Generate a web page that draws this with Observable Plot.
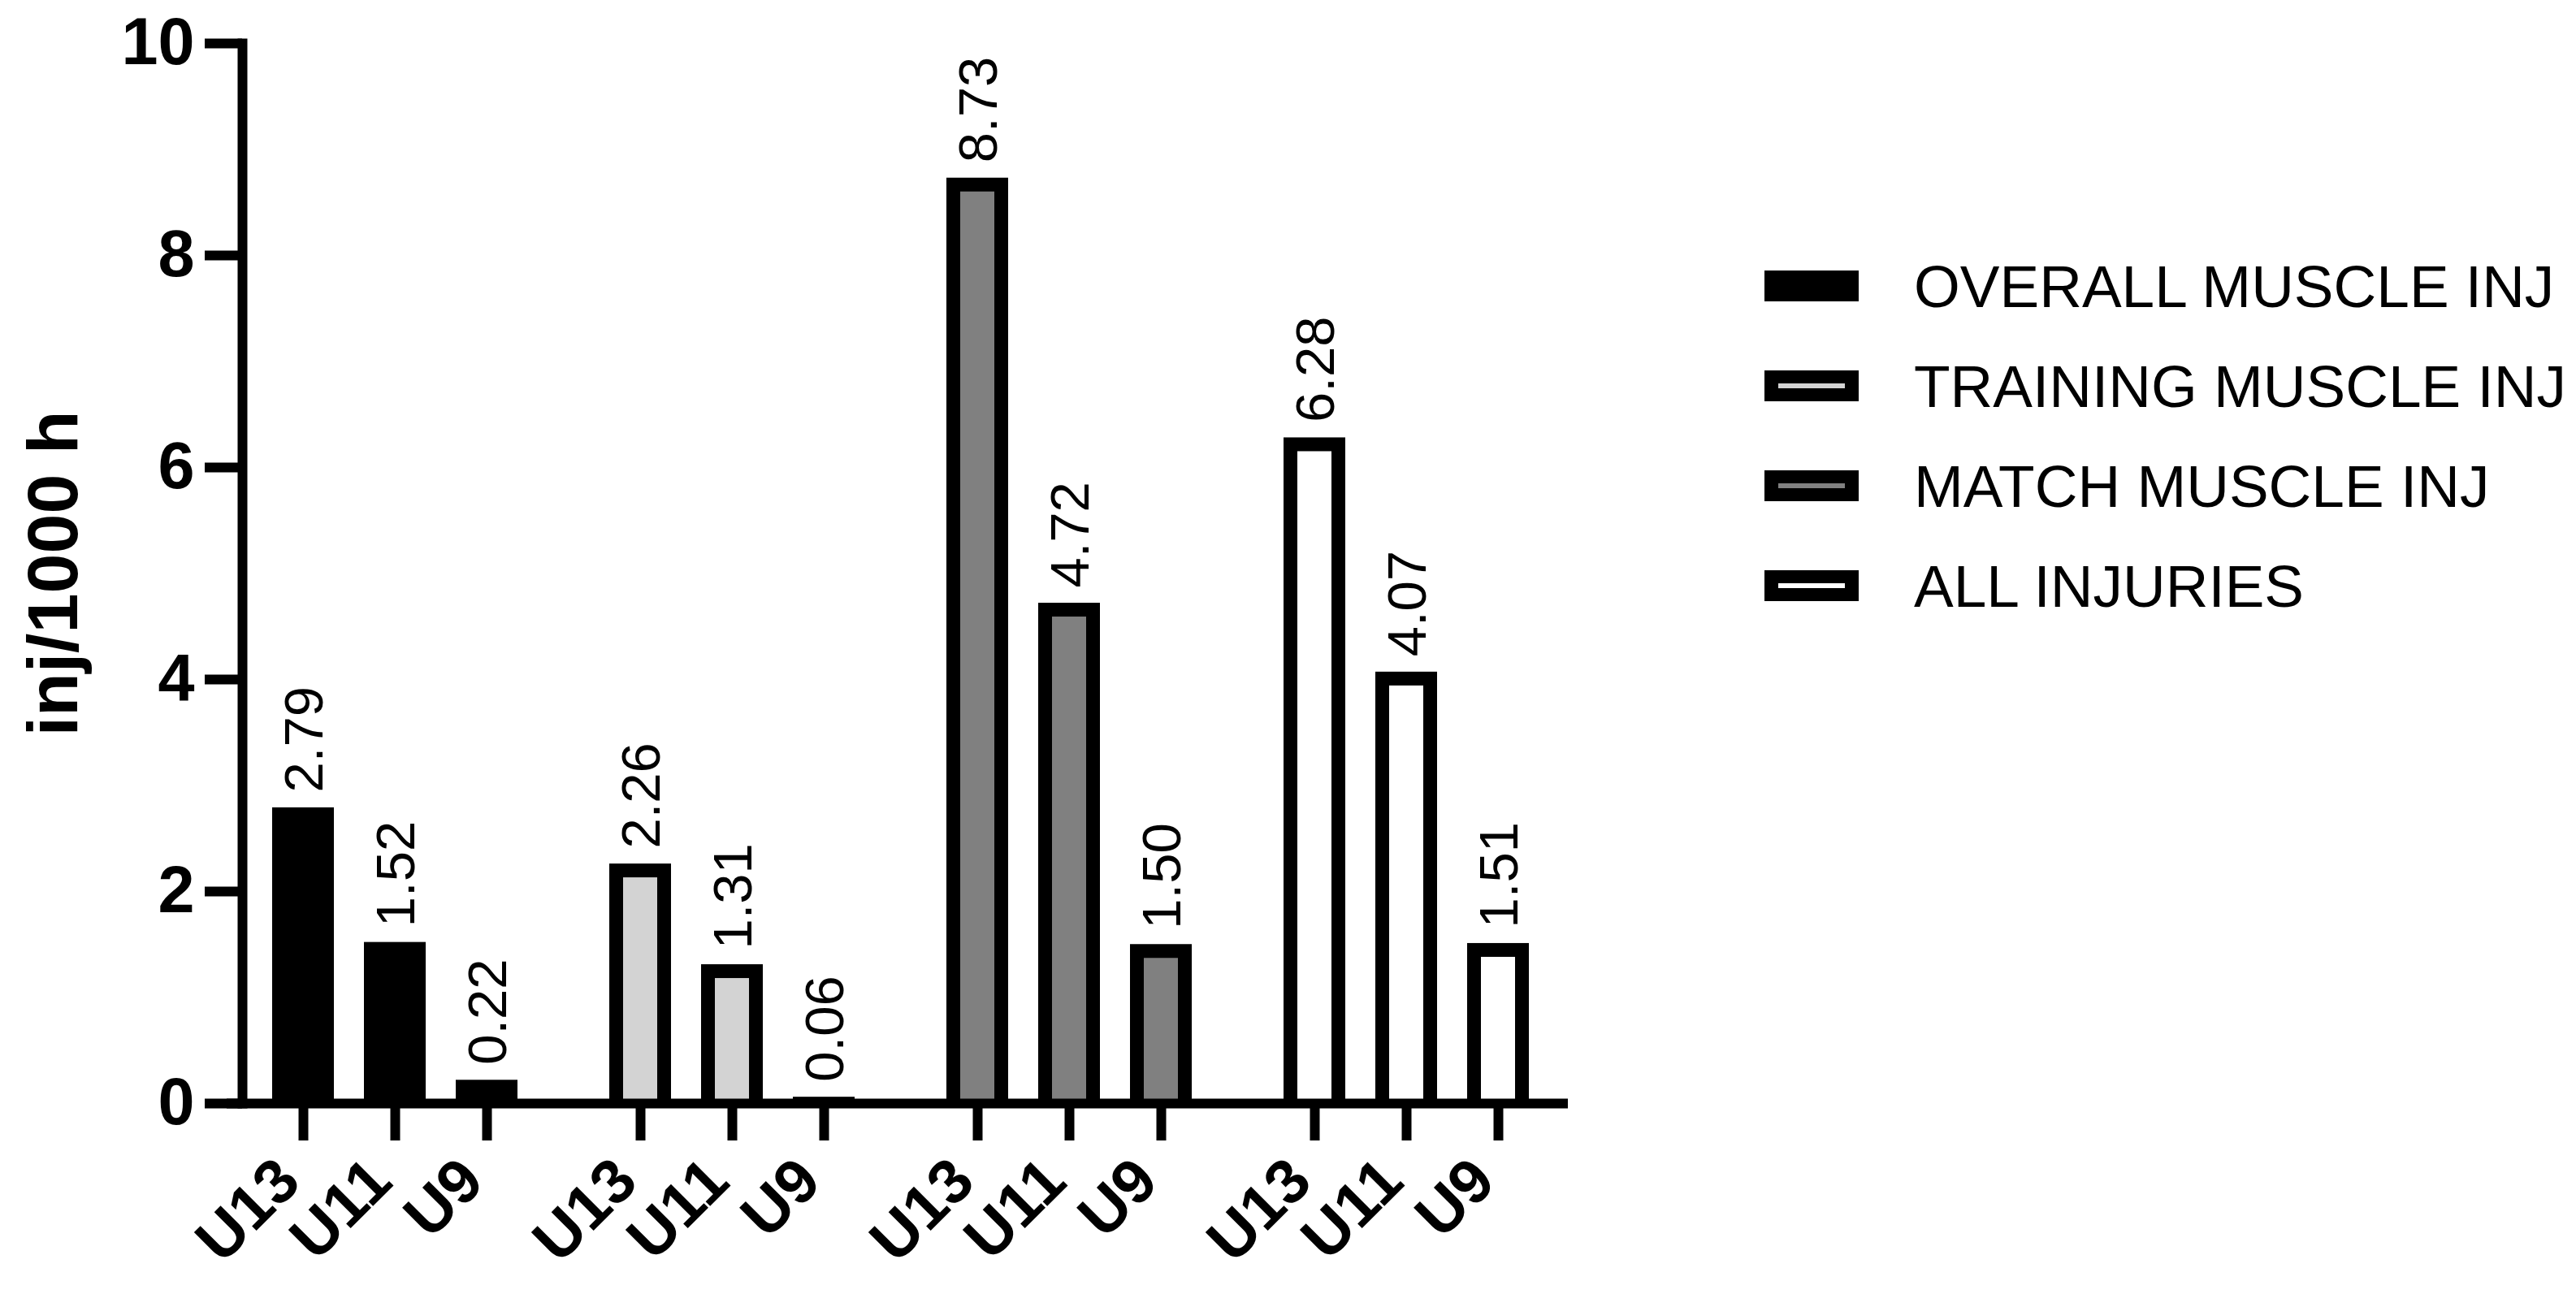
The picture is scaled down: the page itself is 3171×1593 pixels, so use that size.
<!DOCTYPE html>
<html><head><meta charset="utf-8">
<script src="https://cdn.jsdelivr.net/npm/d3@7"></script>
<script src="https://cdn.jsdelivr.net/npm/@observablehq/plot@0.6"></script>
<style>
html,body{margin:0;padding:0;background:#fff;}
#wrap{position:relative;width:3171px;height:1593px;font-family:"Liberation Sans",Arial,sans-serif;}
#wrap svg{position:absolute;left:0;top:0;}
#legend{position:absolute;left:2172px;top:333px;}
.item{position:absolute;left:0;height:38px;display:flex;align-items:center;white-space:nowrap;}
.sw{box-sizing:border-box;width:116px;height:38px;border-style:solid;border-color:#000;border-width:16px 17px;flex:none;}
.lab{margin-left:68px;font-size:73px;line-height:1;color:#000;}
</style></head>
<body><div id="wrap"><div id="legend"></div></div>
<script>
const groups = ["OVERALL MUSCLE INJ", "TRAINING MUSCLE INJ", "MATCH MUSCLE INJ", "ALL INJURIES"];
const ages = ["U13", "U11", "U9"];
const overall = [2.79, 1.52, 0.22];
const training = [2.26, 1.31, 0.06];
const match = [8.73, 4.72, 1.50];
const allInj = [6.28, 4.07, 1.51];
const fills = ["#000000", "#d3d3d3", "#808080", "#ffffff"];
const yTicks = [0, 2, 4, 6, 8, 10];
const yTitle = "inj/1000 h";

const series = [overall, training, match, allInj];
const data = groups.flatMap((g, gi) => ages.map((a, ai) => ({group: g, age: a, value: series[gi][ai]})));
const fmt = d3.format(".2f");
const axisShift = 19; // y axis sits a little inside the first facet

const chart = Plot.plot({
  width: 3171, height: 1593,
  marginTop: 53, marginBottom: 235, marginLeft: 278, marginRight: 1231,
  style: {fontFamily: '"Liberation Sans", Arial, sans-serif', background: "transparent", color: "#000"},
  fx: {domain: groups, paddingInner: 0, paddingOuter: 0, axis: null, label: null},
  x: {domain: ages, paddingInner: 0.325, paddingOuter: 0.485, label: null},
  y: {domain: [0, 10], label: null},
  color: {domain: groups, range: fills},
  marks: [
    Plot.barY(data, {fx: "group", x: "age", y: "value", fill: "#000"}),
    Plot.barY(data, {fx: "group", x: "age", y: "value", fill: "group", inset: 17, insetBottom: 0}),
    Plot.ruleY(groups.slice(0, 3), {fx: d => d, y: () => 0, stroke: "#000", strokeWidth: 12}),
    Plot.ruleY(groups.slice(3), {fx: d => d, y: () => 0, stroke: "#000", strokeWidth: 12, insetRight: 9}),
    Plot.frame({anchor: "left", facetAnchor: "left", insetLeft: axisShift, stroke: "#000", strokeWidth: 12, strokeLinecap: "square"}),
    Plot.axisY({ticks: yTicks, dx: axisShift, tickSize: 46, tickPadding: 13, strokeWidth: 12, fontSize: 81, fontWeight: "bold", label: null}),
    Plot.text([{group: groups[0], t: yTitle}], {fx: "group", text: "t", frameAnchor: "left", textAnchor: "middle", rotate: -90, lineAnchor: "bottom", dx: -185, fontSize: 88, fontWeight: "bold"}),
    Plot.axisX({tickSize: 46, strokeWidth: 12, fill: "none", label: null}),
    Plot.axisX({tickSize: 0, tickPadding: 82, tickRotate: -45, dx: -18, fontSize: 77, fontWeight: "bold", label: null}),
    Plot.text(data, {fx: "group", x: "age", y: "value", text: d => fmt(d.value), rotate: -90, textAnchor: "start", lineAnchor: "middle", dy: -19, dx: 2, fontSize: 67})
  ]
});
document.getElementById("wrap").prepend(chart);

const legend = document.getElementById("legend");
groups.forEach((g, i) => {
  const item = document.createElement("div");
  item.className = "item";
  item.style.top = (i * 123) + "px";
  const sw = document.createElement("div");
  sw.className = "sw";
  sw.style.background = fills[i];
  const lab = document.createElement("span");
  lab.className = "lab";
  lab.textContent = g;
  item.append(sw, lab);
  legend.append(item);
});
</script>
</body></html>
